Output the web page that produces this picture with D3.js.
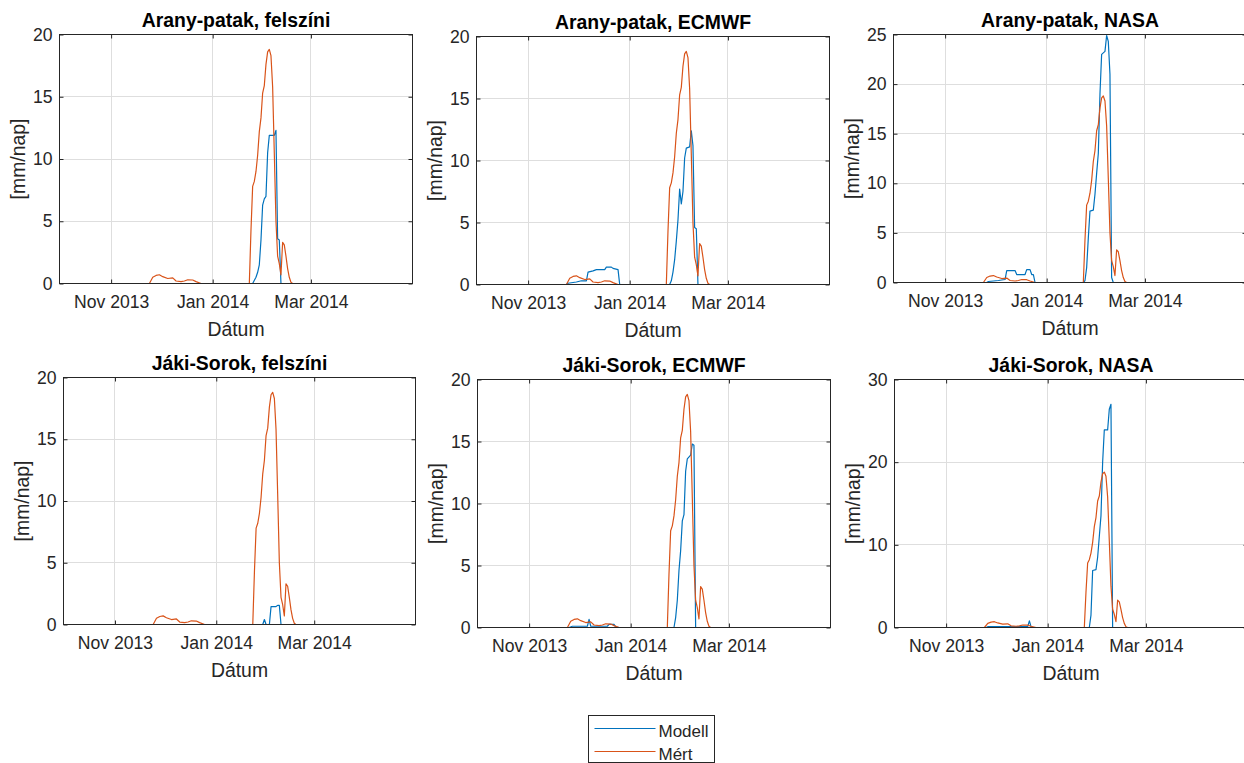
<!DOCTYPE html>
<html>
<head>
<meta charset="utf-8">
<script src="https://cdn.jsdelivr.net/npm/d3@7"></script>
<style>
  html, body { margin: 0; padding: 0; background: #fff; }
  svg { display: block; font-family: "Liberation Sans", Arial, Helvetica, sans-serif; }
</style>
</head>
<body>
<svg id="chart" width="1244" height="763"></svg>
<script>
// date range of the x axis and the labelled ticks
var xRange = ["2013-10-01", "2014-05-01"];
var xTickDates = ["2013-11-01", "2014-01-01", "2014-03-01"];

var panelTitles = [
  "Arany-patak, felszíni", "Arany-patak, ECMWF", "Arany-patak, NASA",
  "Jáki-Sorok, felszíni", "Jáki-Sorok, ECMWF", "Jáki-Sorok, NASA"
];
var yMax = [20, 20, 25, 20, 20, 30];
var yTicks = [
  [0, 5, 10, 15, 20], [0, 5, 10, 15, 20], [0, 5, 10, 15, 20, 25],
  [0, 5, 10, 15, 20], [0, 5, 10, 15, 20], [0, 10, 20, 30]
];

// measured runoff (same in every panel)
var mert = [
  ["2013-10-01", 0], ["2013-11-24", 0], ["2013-11-26", 0.5], ["2013-11-28", 0.65], ["2013-11-30", 0.7],
  ["2013-12-02", 0.55], ["2013-12-05", 0.4], ["2013-12-08", 0.45], ["2013-12-10", 0.2], ["2013-12-13", 0.15],
  ["2013-12-15", 0.2], ["2013-12-17", 0.3], ["2013-12-20", 0.28], ["2013-12-22", 0.15], ["2013-12-25", 0],
  ["2014-01-23", 0], ["2014-01-24", 4.3], ["2014-01-25", 7.8], ["2014-01-26", 8.2], ["2014-01-27", 9.0],
  ["2014-01-28", 10.3], ["2014-01-29", 12.2], ["2014-01-30", 13.3], ["2014-01-31", 15.3], ["2014-02-01", 15.9],
  ["2014-02-02", 17.6], ["2014-02-03", 18.6], ["2014-02-04", 18.8], ["2014-02-05", 18.3], ["2014-02-06", 15.8],
  ["2014-02-07", 10.5], ["2014-02-08", 5.0], ["2014-02-09", 2.2], ["2014-02-10", 1.6], ["2014-02-11", 0.7],
  ["2014-02-12", 3.3], ["2014-02-13", 3.1], ["2014-02-14", 2.2], ["2014-02-15", 1.2], ["2014-02-16", 0.5],
  ["2014-02-17", 0.1], ["2014-02-18", 0], ["2014-05-01", 0]
];

// model runs
var modellAranyFelszini = [
  ["2013-10-01", 0], ["2014-01-25", 0], ["2014-01-27", 0.5], ["2014-01-28", 0.9], ["2014-01-29", 1.5],
  ["2014-01-30", 3.5], ["2014-01-31", 6.3], ["2014-02-01", 6.8], ["2014-02-02", 7.0], ["2014-02-03", 10.5],
  ["2014-02-04", 11.9], ["2014-02-07", 11.9], ["2014-02-08", 12.3], ["2014-02-09", 3.6], ["2014-02-10", 3.5],
  ["2014-02-11", 0], ["2014-05-01", 0]
];
var modellAranyEcmwf = [
  ["2013-10-01", 0], ["2013-11-24", 0], ["2013-11-25", 0.1], ["2013-11-30", 0.2], ["2013-12-03", 0.3],
  ["2013-12-06", 0.3], ["2013-12-07", 1.0], ["2013-12-10", 1.1], ["2013-12-12", 1.2], ["2013-12-17", 1.2],
  ["2013-12-18", 1.4], ["2013-12-21", 1.4], ["2013-12-22", 1.3], ["2013-12-25", 1.2], ["2013-12-26", 0],
  ["2014-01-25", 0], ["2014-01-26", 0.3], ["2014-01-27", 1.0], ["2014-01-28", 2.0], ["2014-01-29", 3.5],
  ["2014-01-30", 5.2], ["2014-01-31", 7.7], ["2014-02-01", 6.5], ["2014-02-02", 7.5], ["2014-02-03", 10.2],
  ["2014-02-04", 11.0], ["2014-02-06", 11.1], ["2014-02-07", 12.4], ["2014-02-08", 11.2], ["2014-02-09", 4.6],
  ["2014-02-10", 4.5], ["2014-02-11", 0], ["2014-05-01", 0]
];
var modellAranyNasa = [
  ["2013-10-01", 0], ["2013-11-26", 0], ["2013-11-27", 0.1], ["2013-12-03", 0.2], ["2013-12-07", 0.3],
  ["2013-12-08", 1.2], ["2013-12-13", 1.2], ["2013-12-14", 0.8], ["2013-12-19", 0.8], ["2013-12-20", 1.3],
  ["2013-12-22", 1.3], ["2013-12-23", 0.8], ["2013-12-24", 0.8], ["2013-12-25", 0], ["2014-01-23", 0],
  ["2014-01-24", 0.2], ["2014-01-25", 1.5], ["2014-01-26", 4.5], ["2014-01-27", 7.2], ["2014-01-29", 7.3],
  ["2014-01-30", 8.9], ["2014-01-31", 11.0], ["2014-02-01", 13.0], ["2014-02-02", 19.0], ["2014-02-03", 23.0],
  ["2014-02-05", 23.3], ["2014-02-06", 24.9], ["2014-02-07", 24.3], ["2014-02-08", 21.0], ["2014-02-09", 0.5],
  ["2014-02-10", 0], ["2014-05-01", 0]
];
var modellJakiFelszini = [
  ["2013-10-01", 0], ["2014-01-29", 0], ["2014-01-30", 0.4], ["2014-01-31", 0], ["2014-02-02", 0],
  ["2014-02-03", 1.45], ["2014-02-06", 1.45], ["2014-02-07", 1.55], ["2014-02-08", 1.55], ["2014-02-09", 0],
  ["2014-05-01", 0]
];
var modellJakiEcmwf = [
  ["2013-10-01", 0], ["2013-11-25", 0], ["2013-11-27", 0.1], ["2013-12-06", 0.1], ["2013-12-07", 0.65],
  ["2013-12-08", 0.1], ["2013-12-18", 0.1], ["2013-12-19", 0.25], ["2013-12-22", 0.25], ["2013-12-23", 0.05],
  ["2013-12-25", 0], ["2014-01-27", 0], ["2014-01-28", 0.8], ["2014-01-29", 2.2], ["2014-01-30", 4.6],
  ["2014-01-31", 6.2], ["2014-02-01", 8.6], ["2014-02-02", 9.1], ["2014-02-03", 12.6], ["2014-02-04", 13.6],
  ["2014-02-06", 13.9], ["2014-02-07", 14.8], ["2014-02-08", 14.7], ["2014-02-09", 0], ["2014-05-01", 0]
];
var modellJakiNasa = [
  ["2013-10-01", 0], ["2013-11-25", 0], ["2013-11-26", 0.1], ["2013-12-20", 0.1], ["2013-12-21", 0.8],
  ["2013-12-22", 0.1], ["2013-12-23", 0], ["2014-01-26", 0], ["2014-01-27", 1.5], ["2014-01-28", 6.9],
  ["2014-01-30", 7.0], ["2014-01-31", 8.5], ["2014-02-01", 11.0], ["2014-02-02", 13.5], ["2014-02-03", 20.0],
  ["2014-02-04", 23.9], ["2014-02-06", 23.9], ["2014-02-07", 26.4], ["2014-02-08", 27.0], ["2014-02-09", 0],
  ["2014-05-01", 0]
];
var modellSeries = [
  modellAranyFelszini, modellAranyEcmwf, modellAranyNasa,
  modellJakiFelszini, modellJakiEcmwf, modellJakiNasa
];

var legendLabels = ["Modell", "Mért"];
var colors = ["#0072BD", "#D95319"];

document.addEventListener("DOMContentLoaded", function () {

  init();

  function init() {
    var parseDate = d3.timeParse("%Y-%m-%d");
    var svg = d3.select("#chart");

    // subplot boxes (left, top, width, height)
    var boxes = [
      [59, 34, 353, 249], [476, 36, 353, 248], [893, 34, 353, 248],
      [63, 377, 352, 247], [477, 379, 353, 248], [894, 379, 353, 248]
    ];

    var axisColor = "#262626";
    var tickFont = 17.6;
    var labelFont = 19.4;

    panelTitles.forEach(function (title, i) {
      var b = boxes[i];
      var w = b[2], h = b[3];

      var x = d3.scaleTime()
        .domain(xRange.map(parseDate))
        .range([0, w]);
      var y = d3.scaleLinear()
        .domain([0, yMax[i]])
        .range([h, 0]);

      var g = svg.append("g")
        .attr("transform", "translate(" + (b[0] + 0.5) + "," + (b[1] + 0.5) + ")");

      g.append("clipPath")
        .attr("id", "clip" + i)
        .append("rect")
        .attr("width", w)
        .attr("height", h);

      // grid
      var ticksX = xTickDates.map(parseDate);
      g.append("g")
        .selectAll("line")
        .data(ticksX)
        .enter()
        .append("line")
        .attr("x1", function (d) { return Math.round(x(d)); })
        .attr("x2", function (d) { return Math.round(x(d)); })
        .attr("y1", 0)
        .attr("y2", h)
        .attr("stroke", "#dedede");
      g.append("g")
        .selectAll("line")
        .data(yTicks[i])
        .enter()
        .append("line")
        .attr("x1", 0)
        .attr("x2", w)
        .attr("y1", function (d) { return Math.round(y(d)); })
        .attr("y2", function (d) { return Math.round(y(d)); })
        .attr("stroke", "#dedede");

      // series
      var line = d3.line()
        .x(function (d) { return x(parseDate(d[0])); })
        .y(function (d) { return y(d[1]); });

      var plot = g.append("g").attr("clip-path", "url(#clip" + i + ")");
      [modellSeries[i], mert].forEach(function (s, k) {
        plot.append("path")
          .datum(s)
          .attr("d", line)
          .attr("fill", "none")
          .attr("stroke", colors[k])
          .attr("stroke-width", 1.2)
          .attr("stroke-linejoin", "round");
      });

      // axes, ticks pointing inwards on all four sides
      var fmt = d3.timeFormat("%b %Y");
      var xb = g.append("g")
        .attr("transform", "translate(0," + h + ")")
        .call(d3.axisBottom(x).tickValues(ticksX).tickFormat(fmt).tickSizeInner(-4).tickSizeOuter(0).tickPadding(12));
      var xt = g.append("g")
        .call(d3.axisTop(x).tickValues(ticksX).tickFormat("").tickSizeInner(-4).tickSizeOuter(0));
      var yl = g.append("g")
        .call(d3.axisLeft(y).tickValues(yTicks[i]).tickSizeInner(-4).tickSizeOuter(0).tickPadding(7));
      var yr = g.append("g")
        .attr("transform", "translate(" + w + ",0)")
        .call(d3.axisRight(y).tickValues(yTicks[i]).tickFormat("").tickSizeInner(-4).tickSizeOuter(0));

      [xb, xt, yl, yr].forEach(function (a) {
        a.select(".domain").remove();
        a.selectAll("line").attr("stroke", axisColor);
        a.selectAll("text")
          .attr("fill", axisColor)
          .style("font-size", tickFont + "px")
          .style("font-family", "'Liberation Sans', Arial, sans-serif");
      });

      g.append("rect")
        .attr("width", w)
        .attr("height", h)
        .attr("fill", "none")
        .attr("stroke", axisColor)
        .attr("stroke-width", 1);

      // labels
      g.append("text")
        .attr("x", w / 2)
        .attr("y", -8)
        .attr("text-anchor", "middle")
        .style("font-size", labelFont + "px")
        .style("font-weight", "bold")
        .attr("fill", "#000")
        .text(title);

      g.append("text")
        .attr("x", w / 2)
        .attr("y", h + 52)
        .attr("text-anchor", "middle")
        .style("font-size", labelFont + "px")
        .attr("fill", axisColor)
        .text("Dátum");

      g.append("text")
        .attr("transform", "translate(-35," + (h / 2) + ") rotate(-90)")
        .attr("text-anchor", "middle")
        .style("font-size", labelFont + "px")
        .attr("fill", axisColor)
        .text("[mm/nap]");
    });

    // legend
    var lg = svg.append("g").attr("transform", "translate(588.5,715.5)");
    lg.append("rect")
      .attr("width", 126)
      .attr("height", 47)
      .attr("fill", "#fff")
      .attr("stroke", axisColor);
    legendLabels.forEach(function (name, k) {
      var yy = 13 + k * 23;
      lg.append("line")
        .attr("x1", 6)
        .attr("x2", 67)
        .attr("y1", yy)
        .attr("y2", yy)
        .attr("stroke", colors[k])
        .attr("stroke-width", 1.2);
      lg.append("text")
        .attr("x", 70)
        .attr("y", yy + 8)
        .style("font-size", "17px")
        .attr("fill", axisColor)
        .text(name);
    });
  }

});
</script>
</body>
</html>
